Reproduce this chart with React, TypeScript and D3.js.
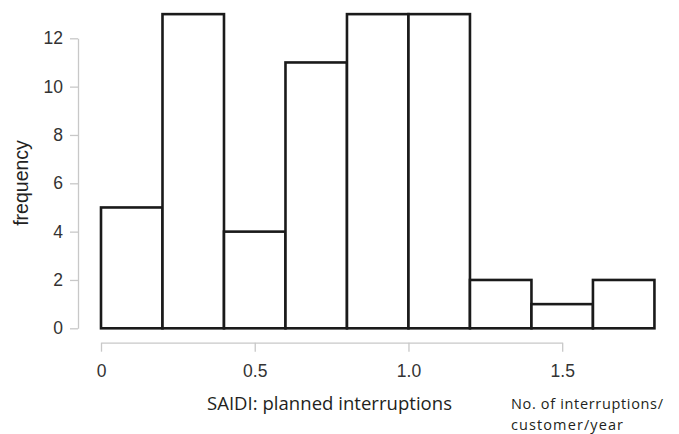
import React, { useEffect, useRef } from 'react';
import * as d3 from 'd3';

// histogram bins (SAIDI, planned interruptions)
const binStarts = [0, 0.2, 0.4, 0.6, 0.8, 1.0, 1.2, 1.4, 1.6];
const binWidth = 0.2;
const counts = [5, 13, 4, 11, 13, 13, 2, 1, 2];
const xTicks = [0, 0.5, 1.0, 1.5];
const xTickLabels = ['0', '0.5', '1.0', '1.5'];
const yTicks = [0, 2, 4, 6, 8, 10, 12];

const width = 679;
const height = 434;

export default function App() {
  const ref = useRef<SVGSVGElement>(null);

  useEffect(() => {
    const svg = d3.select(ref.current);
    svg.selectAll('*').remove();

    const xScale = d3.scaleLinear().domain([0, 1.5]).range([101, 562.2]);
    const yScale = d3.scaleLinear().domain([0, 12]).range([328.3, 38.3]);

    // bars
    svg
      .append('g')
      .selectAll('rect')
      .data(counts)
      .enter()
      .append('rect')
      .attr('x', (d, i) => xScale(binStarts[i]))
      .attr('width', xScale(binWidth) - xScale(0))
      .attr('y', (d) => yScale(d))
      .attr('height', (d) => yScale(0) - yScale(d))
      .attr('fill', '#fff')
      .attr('stroke', '#1a1a1a')
      .attr('stroke-width', 2.6);

    const tickFont = '"Liberation Sans", Arial, sans-serif';

    // y axis
    const yAxis = d3
      .axisLeft(yScale)
      .tickValues(yTicks)
      .tickSize(8)
      .tickPadding(7)
      .tickSizeOuter(0);
    const yg = svg.append('g').attr('transform', 'translate(78, 0)').call(yAxis);
    yg.selectAll('path, line').attr('stroke', '#c8c8c8').attr('stroke-width', 1.3);
    yg.selectAll('text')
      .attr('fill', '#333')
      .style('font-family', tickFont)
      .style('font-size', '17.5px');

    // x axis
    const xAxis = d3
      .axisBottom(xScale)
      .tickValues(xTicks)
      .tickFormat((d, i) => xTickLabels[i])
      .tickSize(9)
      .tickPadding(13)
      .tickSizeOuter(0);
    const xg = svg.append('g').attr('transform', 'translate(0, 342.7)').call(xAxis);
    xg.selectAll('path, line').attr('stroke', '#c8c8c8').attr('stroke-width', 1.3);
    xg.selectAll('text')
      .attr('fill', '#333')
      .style('font-family', tickFont)
      .style('font-size', '17.5px');

    // labels
    svg
      .append('text')
      .attr('transform', 'rotate(-90)')
      .attr('x', -183)
      .attr('y', 28)
      .attr('text-anchor', 'middle')
      .attr('fill', '#222')
      .style('font-family', tickFont)
      .style('font-size', '19.5px')
      .text('frequency');

    svg
      .append('text')
      .attr('x', 207)
      .attr('y', 410)
      .attr('fill', '#231f20')
      .style('font-family', '"Open Sans", sans-serif')
      .style('font-size', '18.5px')
      .attr('textLength', 245)
      .text('SAIDI: planned interruptions');

    svg
      .append('text')
      .attr('x', 511)
      .attr('y', 409)
      .attr('fill', '#231f20')
      .style('font-family', '"Open Sans", sans-serif')
      .style('font-size', '14.5px')
      .attr('textLength', 152)
      .text('No. of interruptions/');

    svg
      .append('text')
      .attr('x', 511)
      .attr('y', 430)
      .attr('fill', '#231f20')
      .style('font-family', '"Open Sans", sans-serif')
      .style('font-size', '14.5px')
      .attr('textLength', 112)
      .text('customer/year');
  }, []);

  return (
    <svg
      ref={ref}
      width={width}
      height={height}
      style={{ position: 'absolute', left: 0, top: 0, background: '#fff' }}
    />
  );
}
